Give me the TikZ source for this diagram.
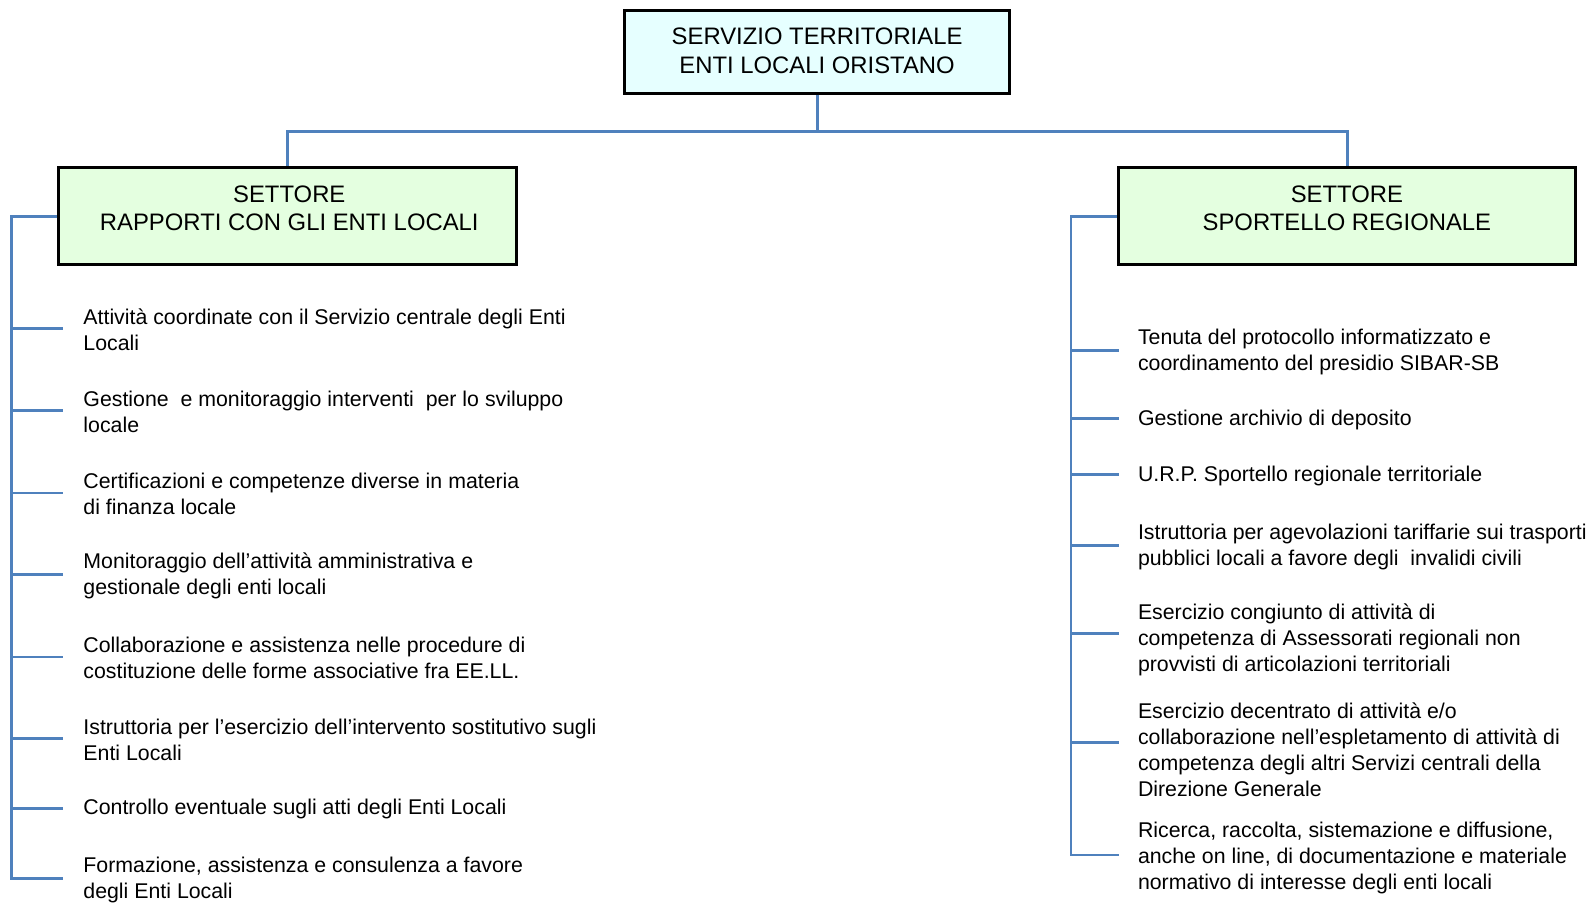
\documentclass[tikz,border=0pt]{standalone}
\usepackage{fontspec}
\setmainfont{Liberation Sans}
\definecolor{linkblue}{HTML}{4F81BD}
\definecolor{topfill}{HTML}{E6FFFF}
\definecolor{secfill}{HTML}{E4FFE0}
\begin{document}
\begin{tikzpicture}[x=1pt,y=-1pt,scale=1.015,transform shape,
  boxstyle/.style={draw=black, line width=3pt, rectangle, inner sep=0pt},
  titletext/.style={align=center, inner sep=0pt, font=\fontsize{23.5}{28}\selectfont},
  itemtext/.style={anchor=west, align=left, inner sep=0pt, yshift=-1.5pt, font=\fontsize{21}{25.5}\selectfont},
  conn/.style={draw=linkblue, line width=2.8pt, line join=miter}]
\useasboundingbox (0,0) rectangle (1567.5,889.65);

% boxes
\node[boxstyle, fill=topfill, minimum width=380pt, minimum height=82pt] (T) at (805,51) {};
\node[titletext] (Tt) at (805,50) {SERVIZIO TERRITORIALE\\ENTI LOCALI ORISTANO};
\node[boxstyle, fill=secfill, minimum width=451pt, minimum height=96pt] (L) at (283.5,213) {};
\node[titletext] (Lt) at (285,205) {SETTORE\\RAPPORTI CON GLI ENTI LOCALI};
\node[boxstyle, fill=secfill, minimum width=450pt, minimum height=96pt] (R) at (1327,213) {};
\node[titletext] (Rt) at (1327,205) {SETTORE\\SPORTELLO REGIONALE};

% top connectors
\draw[conn] (T.south) -- ++(0,36) -| (L.north);
\draw[conn] (T.south) -- ++(0,36) -| (R.north);

% left items
\coordinate (Ls) at (11,0);
\coordinate (Le) at (62,0);
\node[itemtext] (l1) at (82,323.5) {Attività coordinate con il Servizio centrale degli Enti\\Locali};
\node[itemtext] (l2) at (82,404.5) {Gestione\ \ e monitoraggio interventi\ \ per lo sviluppo\\locale};
\node[itemtext] (l3) at (82,485.5) {Certificazioni e competenze diverse in materia\\di finanza locale};
\node[itemtext] (l4) at (82,566) {Monitoraggio dell’attività amministrativa e\\gestionale degli enti locali};
\node[itemtext] (l5) at (82,647) {Collaborazione e assistenza nelle procedure di\\costituzione delle forme associative fra EE.LL.};
\node[itemtext] (l6) at (82,727.5) {Istruttoria per l’esercizio dell’intervento sostitutivo sugli\\Enti Locali};
\node[itemtext] (l7) at (82,796) {Controllo eventuale sugli atti degli Enti Locali};
\node[itemtext] (l8) at (82,865.5) {Formazione, assistenza e consulenza a favore\\degli Enti Locali};

\foreach \n in {l1,l2,l3,l4,l5,l6,l7,l8}
  \coordinate (b\n) at ([yshift=1.5pt]\n.west);
\draw[conn] (L.west) -- (Ls |- L.west) -- (Ls |- bl8) -- (Le |- bl8);
\foreach \n in {l1,l2,l3,l4,l5,l6,l7}
  \draw[conn] (Ls |- b\n) -- (Le |- b\n);

% right items
\coordinate (Rs) at (1055,0);
\coordinate (Re) at (1102,0);
\node[itemtext] (r1) at (1121,345.5) {Tenuta del protocollo informatizzato e\\coordinamento del presidio SIBAR-SB};
\node[itemtext] (r2) at (1121,412) {Gestione archivio di deposito};
\node[itemtext] (r3) at (1121,467) {U.R.P. Sportello regionale territoriale};
\node[itemtext] (r4) at (1121,537) {Istruttoria per agevolazioni tariffarie sui trasporti\\pubblici locali a favore degli\ \ invalidi civili};
\node[itemtext] (r5) at (1121,629) {Esercizio congiunto di attività di\\competenza di Assessorati regionali non\\provvisti di articolazioni territoriali};
\node[itemtext] (r6) at (1121,737) {Esercizio decentrato di attività e/o\\collaborazione nell’espletamento di attività di\\competenza degli altri Servizi centrali della\\Direzione Generale};
\node[itemtext] (r7) at (1121,844) {Ricerca, raccolta, sistemazione e diffusione,\\anche on line, di documentazione e materiale\\normativo di interesse degli enti locali};

\foreach \n/\s in {r1/1.5,r2/1.5,r3/1.5,r4/1.5,r5/6.5,r6/7.5,r7/3.5}
  \coordinate (b\n) at ([yshift=\s pt]\n.west);
\draw[conn] (R.west) -- (Rs |- R.west) -- (Rs |- br7) -- (Re |- br7);
\foreach \n in {r1,r2,r3,r4,r5,r6}
  \draw[conn] (Rs |- b\n) -- (Re |- b\n);
\end{tikzpicture}
\end{document}
